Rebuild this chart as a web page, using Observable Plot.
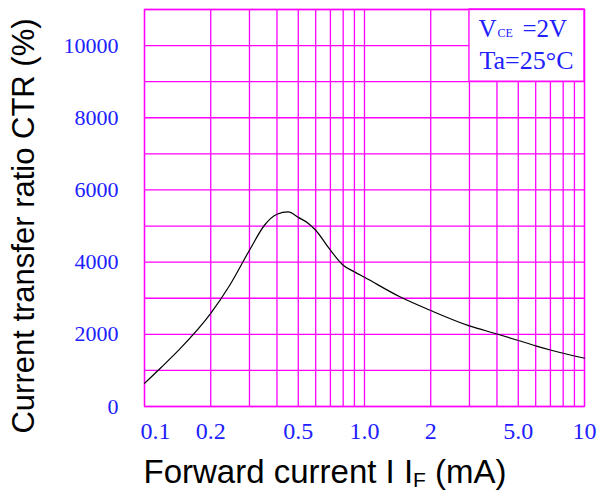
<!DOCTYPE html>
<html><head><meta charset="utf-8">
<script src="https://cdn.jsdelivr.net/npm/d3@7"></script>
<script src="https://cdn.jsdelivr.net/npm/@observablehq/plot@0.6"></script>
<style>body{margin:0;background:#fff}</style>
</head><body><div id="chart"></div>
<script>
// Forward current IF (mA) and current transfer ratio CTR (%)
const currentMA = [0.1, 0.119, 0.143, 0.2, 0.244, 0.3, 0.351, 0.4, 0.45, 0.5, 0.554, 0.6, 0.7, 0.8, 0.9, 1.0, 1.44, 2, 3, 4, 5, 6, 7, 8, 9, 10];
const ctrPct    = [640, 1080, 1560, 2580, 3360, 4330, 5022, 5327, 5390, 5240, 5080, 4884, 4330, 3914, 3730, 3580, 3047, 2660, 2233, 2010, 1830, 1680, 1565, 1475, 1400, 1338];

const xGrid = [0.1,0.2,0.3,0.4,0.5,0.6,0.7,0.8,0.9,1,2,3,4,5,6,7,8,9,10];
const yGrid = [0,1000,2000,3000,4000,5000,6000,7000,8000,9000,10000,11000];
const xTickValues = [0.1, 0.2, 0.5, 1, 2, 5, 10];
const xTickLabels = ["0.1", "0.2", "0.5", "1.0", "2", "5.0", "10"];
const yTickValues = [0, 2000, 4000, 6000, 8000, 10000];
const yTickLabels = ["0", "2000", "4000", "6000", "8000", "10000"];
const legendLine1 = ["V", "CE", "=2V"];
const legendLine2 = ["Ta=25°C"];
const xTitle = ["Forward current I I", "F", "(mA)"];
const yTitle = ["Current transfer ratio CTR (%)"];

const curve = currentMA.map((x, i) => ({x, y: ctrPct[i]}));

const MAG = "#ff00ff";
const BLUE = "#2020ff";
const SERIF = "Liberation Serif, serif";
const SANS = "Liberation Sans, Arial, sans-serif";

const chart = Plot.plot({
  width: 598,
  height: 491,
  marginLeft: 144,
  marginRight: 14,
  marginTop: 9,
  marginBottom: 85,
  style: {background: "#fff"},
  x: {type: "log", domain: [0.1, 10], axis: null},
  y: {domain: [0, 11000], axis: null},
  marks: [
    Plot.ruleX(xGrid, {x: d => d, stroke: MAG, strokeWidth: 1.3}),
    Plot.ruleY(yGrid, {y: d => d, stroke: MAG, strokeWidth: 1.3}),
    Plot.rect([0], {x1: 3, x2: 10, y1: 9000, y2: 11000, fill: "white", stroke: MAG, strokeWidth: 1.3}),
    Plot.frame({stroke: MAG, strokeWidth: 1.3}),
    Plot.line(curve, {x: "x", y: "y", curve: "monotone-x", stroke: "black", strokeWidth: 1.2}),
    // y tick labels
    Plot.text(yTickValues, {y: d => d, text: (d, i) => yTickLabels[i], frameAnchor: "left", dx: -26,
      textAnchor: "end", fill: BLUE, fontSize: 22, fontFamily: SERIF}),
    // x tick labels
    Plot.text(xTickValues.slice(0, 1), {x: d => d, text: (d, i) => xTickLabels[i], frameAnchor: "bottom", dy: 32,
      dx: -4, textAnchor: "start", fill: BLUE, fontSize: 24, fontFamily: SERIF}),
    Plot.text(xTickValues.slice(1), {x: d => d, text: (d, i) => xTickLabels[i + 1], frameAnchor: "bottom", dy: 32,
      textAnchor: "middle", fill: BLUE, fontSize: 24, fontFamily: SERIF}),
    // legend box text
    Plot.text([legendLine1[0]], {x: 3, y: 11000, text: d => d, dx: 9, dy: 27, textAnchor: "start", lineAnchor: "bottom",
      fill: BLUE, fontSize: 25, fontFamily: SERIF}),
    Plot.text([legendLine1[1]], {x: 3, y: 11000, text: d => d, dx: 28, dy: 27, textAnchor: "start", lineAnchor: "bottom",
      fill: BLUE, fontSize: 12, fontFamily: SERIF}),
    Plot.text([legendLine1[2]], {x: 3, y: 11000, text: d => d, dx: 53, dy: 27, textAnchor: "start", lineAnchor: "bottom",
      fill: BLUE, fontSize: 25, fontFamily: SERIF}),
    Plot.text(legendLine2, {x: 3, y: 11000, text: d => d, dx: 10, dy: 59, textAnchor: "start", lineAnchor: "bottom",
      fill: BLUE, fontSize: 26, fontFamily: SERIF}),
    // axis titles
    Plot.text(yTitle, {text: d => d, frameAnchor: "left", dx: -120.6, dy: 18, rotate: -90, textAnchor: "middle",
      lineAnchor: "middle", fill: "black", fontSize: 31, fontFamily: SANS}),
    Plot.text([xTitle[0]], {text: d => d, frameAnchor: "bottom-left", dx: -1, dy: 76, textAnchor: "start",
      lineAnchor: "bottom", fill: "black", fontSize: 33, fontFamily: SANS}),
    Plot.text([xTitle[1]], {text: d => d, frameAnchor: "bottom-left", dx: 268.6, dy: 80, textAnchor: "start",
      lineAnchor: "bottom", fill: "black", fontSize: 21, fontFamily: SANS}),
    Plot.text([xTitle[2]], {text: d => d, frameAnchor: "bottom-left", dx: 290.6, dy: 76, textAnchor: "start",
      lineAnchor: "bottom", fill: "black", fontSize: 33, fontFamily: SANS})
  ]
});
document.getElementById("chart").appendChild(chart);
</script>
</body></html>
